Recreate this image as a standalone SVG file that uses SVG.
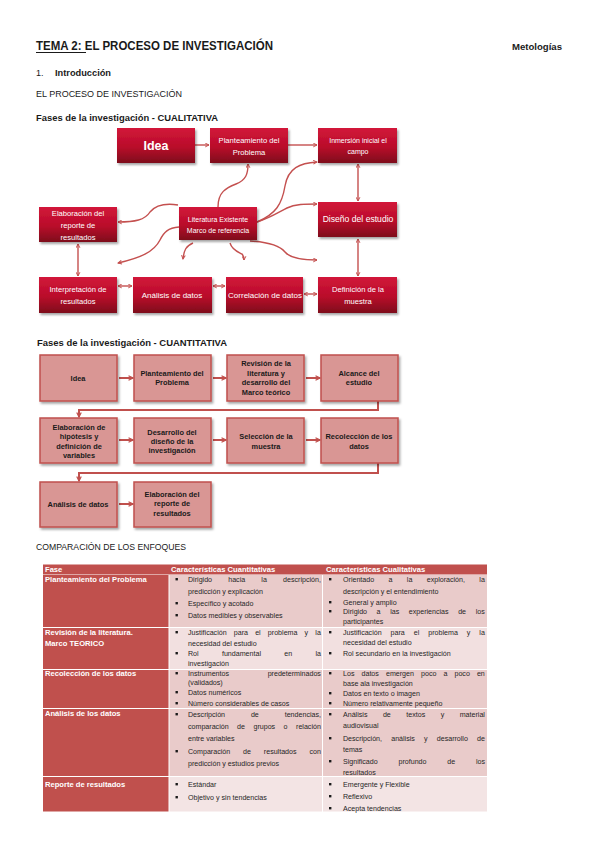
<svg xmlns="http://www.w3.org/2000/svg" width="599" height="848" viewBox="0 0 599 848">
<defs>
<linearGradient id="qg" x1="0" y1="0" x2="0" y2="1">
<stop offset="0" stop-color="#d2163a"/>
<stop offset="0.55" stop-color="#b90d2a"/>
<stop offset="1" stop-color="#7e0a1c"/>
</linearGradient>
<filter id="sh" x="-10%" y="-10%" width="130%" height="140%">
<feDropShadow dx="1.5" dy="2" stdDeviation="1.2" flood-color="#000" flood-opacity="0.35"/>
</filter>
<marker id="ah" viewBox="0 0 8 8" refX="7" refY="4" markerWidth="5" markerHeight="5" orient="auto-start-reverse" markerUnits="userSpaceOnUse">
<path d="M1,1 L7,4 L1,7" fill="none" stroke="#c4504f" stroke-width="1.6"/>
</marker>
<marker id="ah2" viewBox="0 0 8 8" refX="7" refY="4" markerWidth="6" markerHeight="6" orient="auto-start-reverse" markerUnits="userSpaceOnUse">
<path d="M1,1 L7,4 L1,7" fill="none" stroke="#c0504d" stroke-width="1.6"/>
</marker>
</defs>
<style>
text{font-family:"Liberation Sans",Arial,sans-serif;}
.h{font-weight:bold;fill:#1a1a1a;}
.r{fill:#1a1a1a;}
.qb{fill:url(#qg);filter:url(#sh);}
.qt{fill:#fff;font-size:7.6px;text-anchor:middle;}
.nb{fill:#d99694;stroke:#c0504d;stroke-width:1.5;filter:url(#sh);}
.nt{fill:#1a1a1a;font-size:7.4px;font-weight:bold;text-anchor:middle;}
.c{fill:none;stroke:#c4504f;stroke-width:1.4;}
.c2{fill:none;stroke:#c0504d;stroke-width:2;}
.tw{fill:#fff;font-size:7.6px;font-weight:bold;}
.td{fill:#262626;font-size:7.1px;}
.bl{fill:#1a1a1a;}
</style>

<!-- headings -->
<text x="36" y="50" class="h" font-size="12.5" textLength="237" lengthAdjust="spacingAndGlyphs">TEMA 2: EL PROCESO DE INVESTIGACIÓN</text>
<line x1="36" y1="52.5" x2="86" y2="52.5" stroke="#1a1a1a" stroke-width="1"/>
<text x="512" y="50" class="h" font-size="9" textLength="50" lengthAdjust="spacingAndGlyphs">Metologías</text>
<text x="36" y="76" class="r" font-size="9">1.</text>
<text x="55" y="76" class="h" font-size="9" textLength="56" lengthAdjust="spacingAndGlyphs">Introducción</text>
<text x="36" y="97" class="r" font-size="9" textLength="146" lengthAdjust="spacingAndGlyphs">EL PROCESO DE INVESTIGACIÓN</text>
<text x="36" y="121" class="h" font-size="9.5" textLength="182" lengthAdjust="spacingAndGlyphs">Fases de la investigación - CUALITATIVA</text>
<text x="37" y="346" class="h" font-size="9.5" textLength="190" lengthAdjust="spacingAndGlyphs">Fases de la investigación - CUANTITATIVA</text>
<text x="36" y="550" class="r" font-size="9" textLength="150" lengthAdjust="spacingAndGlyphs">COMPARACIÓN DE LOS ENFOQUES</text>

<!-- qualitative connectors -->
<g id="qual-connectors">
<path class="c" d="M195,145 L209,145" marker-end="url(#ah)"/>
<path class="c" d="M288,145 L317,145" marker-end="url(#ah)"/>
<path class="c" d="M218,207 C218,192 226,188 236,184 C246,180 248,174 248,164" marker-end="url(#ah)"/>
<path class="c" d="M257,222 C276,214 282,204 285,186 C288,168 300,163 317,162" marker-end="url(#ah)"/>
<path class="c" d="M257,222 C270,218 279,212 287,208 C295,204 305,204 317,204" marker-end="url(#ah)"/>
<path class="c" d="M178,205 C165,203 155,206 150,212 C145,220 135,222 118,222" marker-end="url(#ah)"/>
<path class="c" d="M179,227 C168,228 164,232 160,240 C154,252 140,258 118,263" marker-end="url(#ah)"/>
<path class="c" d="M193,243 C186,246 184,250 183,259" marker-end="url(#ah)"/>
<path class="c" d="M230,243 C232,250 238,252 242,254 C244,256 244,258 244,260" marker-end="url(#ah)"/>
<path class="c" d="M250,241 C268,242 280,246 285,252 C290,258 300,260 317,260" marker-end="url(#ah)"/>
<path class="c" d="M358,164 L358,201" marker-start="url(#ah)" marker-end="url(#ah)"/>
<path class="c" d="M358,239 L358,276" marker-start="url(#ah)" marker-end="url(#ah)"/>
<path class="c" d="M78,244 L78,276" marker-start="url(#ah)" marker-end="url(#ah)"/>
<path class="c" d="M118,286 L132,286" marker-start="url(#ah)" marker-end="url(#ah)"/>
<path class="c" d="M213,286 L225,286" marker-start="url(#ah)" marker-end="url(#ah)"/>
<path class="c" d="M304,294 L317,294" marker-start="url(#ah)" marker-end="url(#ah)"/>
</g>

<!-- qualitative nodes -->
<g id="q-idea"><rect class="qb" x="117" y="128" width="78" height="35"/><text class="qt" x="156" y="150" style="font-size:12.5px;font-weight:bold">Idea</text></g>
<g id="q-planteamiento"><rect class="qb" x="210" y="128" width="78" height="35"/><text class="qt" x="249" y="143">Planteamiento del</text><text class="qt" x="249" y="155">Problema</text></g>
<g id="q-inmersion"><rect class="qb" x="318" y="128" width="79" height="35"/><text class="qt" x="358" y="143" style="font-size:7px">Inmersión inicial el</text><text class="qt" x="358" y="154" style="font-size:7px">campo</text></g>
<g id="q-elaboracion"><rect class="qb" x="39" y="207" width="78" height="35"/><text class="qt" x="78" y="216">Elaboración del</text><text class="qt" x="78" y="228">reporte de</text><text class="qt" x="78" y="240">resultados</text></g>
<g id="q-literatura"><rect class="qb" x="179" y="207" width="78" height="33"/><text class="qt" x="218" y="222" style="font-size:7px">Literatura Existente</text><text class="qt" x="218" y="233" style="font-size:7px">Marco de referencia</text></g>
<g id="q-diseno"><rect class="qb" x="318" y="202" width="79" height="35"/><text class="qt" x="358" y="222" style="font-size:8.6px">Diseño del estudio</text></g>
<g id="q-interpretacion"><rect class="qb" x="39" y="277" width="78" height="36"/><text class="qt" x="78" y="292">Interpretación de</text><text class="qt" x="78" y="304">resultados</text></g>
<g id="q-analisis"><rect class="qb" x="133" y="277" width="79" height="36"/><text class="qt" x="172" y="298" style="font-size:8px">Análisis de datos</text></g>
<g id="q-correlacion"><rect class="qb" x="226" y="277" width="77" height="36"/><text class="qt" x="265" y="298" style="font-size:8px">Correlación de datos</text></g>
<g id="q-definicion"><rect class="qb" x="318" y="277" width="79" height="36"/><text class="qt" x="358" y="292">Definición de la</text><text class="qt" x="358" y="304">muestra</text></g>

<!-- quantitative connectors -->
<g id="quant-connectors">
<path class="c2" d="M119,378 L133,378" marker-end="url(#ah2)"/>
<path class="c2" d="M213,378 L226,378" marker-end="url(#ah2)"/>
<path class="c2" d="M306,378 L320,378" marker-end="url(#ah2)"/>
<path class="c2" d="M378,401 L378,410 L79,410 L79,417" marker-end="url(#ah2)"/>
<path class="c2" d="M119,440 L133,440" marker-end="url(#ah2)"/>
<path class="c2" d="M213,440 L226,440" marker-end="url(#ah2)"/>
<path class="c2" d="M306,440 L320,440" marker-end="url(#ah2)"/>
<path class="c2" d="M378,463 L378,473 L79,473 L79,481" marker-end="url(#ah2)"/>
<path class="c2" d="M119,504 L133,504" marker-end="url(#ah2)"/>
</g>

<!-- quantitative nodes -->
<g id="n-idea"><rect class="nb" x="40" y="355" width="77" height="46"/><text class="nt" x="78" y="381">Idea</text></g>
<g id="n-planteamiento"><rect class="nb" x="134" y="355" width="77" height="46"/><text class="nt" x="172" y="376">Planteamiento del</text><text class="nt" x="172" y="385">Problema</text></g>
<g id="n-revision"><rect class="nb" x="227" y="355" width="77" height="46"/><text class="nt" x="266" y="366">Revisión de la</text><text class="nt" x="266" y="376">literatura y</text><text class="nt" x="266" y="385">desarrollo del</text><text class="nt" x="266" y="395">Marco teórico</text></g>
<g id="n-alcance"><rect class="nb" x="321" y="355" width="77" height="46"/><text class="nt" x="359" y="376">Alcance del</text><text class="nt" x="359" y="385">estudio</text></g>
<g id="n-hipotesis"><rect class="nb" x="40" y="418" width="77" height="45"/><text class="nt" x="79" y="430">Elaboración de</text><text class="nt" x="79" y="439">hipótesis y</text><text class="nt" x="79" y="449">definición de</text><text class="nt" x="79" y="458">variables</text></g>
<g id="n-desarrollo"><rect class="nb" x="134" y="418" width="77" height="45"/><text class="nt" x="172" y="435">Desarrollo del</text><text class="nt" x="172" y="444">diseño de la</text><text class="nt" x="172" y="453">investigación</text></g>
<g id="n-seleccion"><rect class="nb" x="227" y="418" width="77" height="45"/><text class="nt" x="266" y="439">Selección de la</text><text class="nt" x="266" y="449">muestra</text></g>
<g id="n-recoleccion"><rect class="nb" x="321" y="418" width="77" height="45"/><text class="nt" x="359" y="439">Recolección de los</text><text class="nt" x="359" y="449">datos</text></g>
<g id="n-analisis"><rect class="nb" x="40" y="482" width="77" height="45"/><text class="nt" x="78" y="507">Análisis de datos</text></g>
<g id="n-reporte"><rect class="nb" x="134" y="482" width="77" height="45"/><text class="nt" x="172" y="497">Elaboración del</text><text class="nt" x="172" y="506">reporte de</text><text class="nt" x="172" y="516">resultados</text></g>

<!-- table -->
<g id="table">
<rect x="43" y="564.5" width="444" height="10" fill="#c0504d"/>
<rect x="43" y="575" width="125.5" height="236.5" fill="#c0504d"/>
<rect x="169.5" y="575" width="152.5" height="52" fill="#e9cbca"/>
<rect x="323" y="575" width="164" height="52" fill="#e9cbca"/>
<rect x="169.5" y="628" width="152.5" height="41" fill="#f2e0e0"/>
<rect x="323" y="628" width="164" height="41" fill="#f2e0e0"/>
<rect x="169.5" y="670" width="152.5" height="38" fill="#e9cbca"/>
<rect x="323" y="670" width="164" height="38" fill="#e9cbca"/>
<rect x="169.5" y="709" width="152.5" height="67" fill="#e9cbca"/>
<rect x="323" y="709" width="164" height="67" fill="#e9cbca"/>
<rect x="169.5" y="777" width="152.5" height="34.5" fill="#f3e4e4"/>
<rect x="323" y="777" width="164" height="34.5" fill="#f3e4e4"/>
<g fill="#fff"><rect x="43" y="627" width="444" height="1"/><rect x="43" y="669" width="444" height="1"/><rect x="43" y="708" width="444" height="1"/><rect x="43" y="776" width="444" height="1"/></g>

<text class="tw" x="45" y="572">Fase</text>
<text class="tw" x="171" y="572">Características Cuantitativas</text>
<text class="tw" x="326" y="572">Características Cualitativas</text>
<text class="tw" x="45" y="582">Planteamiento del Problema</text>
<text class="tw" x="45" y="635">Revisión de la literatura.</text>
<text class="tw" x="45" y="646">Marco TEORICO</text>
<text class="tw" x="45" y="676">Recolección de los datos</text>
<text class="tw" x="45" y="716">Análisis de los datos</text>
<text class="tw" x="45" y="787">Reporte de resultados</text>

<g class="bl">
<rect x="175.5" y="578" width="2.4" height="2.4"/><rect x="175.5" y="602" width="2.4" height="2.4"/><rect x="175.5" y="614" width="2.4" height="2.4"/>
<rect x="175.5" y="631" width="2.4" height="2.4"/><rect x="175.5" y="652" width="2.4" height="2.4"/>
<rect x="175.5" y="672" width="2.4" height="2.4"/><rect x="175.5" y="691" width="2.4" height="2.4"/><rect x="175.5" y="702" width="2.4" height="2.4"/>
<rect x="175.5" y="713" width="2.4" height="2.4"/><rect x="175.5" y="750" width="2.4" height="2.4"/>
<rect x="175.5" y="783" width="2.4" height="2.4"/><rect x="175.5" y="796" width="2.4" height="2.4"/>
<rect x="329" y="578" width="2.4" height="2.4"/><rect x="329" y="601" width="2.4" height="2.4"/><rect x="329" y="610" width="2.4" height="2.4"/>
<rect x="329" y="631" width="2.4" height="2.4"/><rect x="329" y="652" width="2.4" height="2.4"/>
<rect x="329" y="672" width="2.4" height="2.4"/><rect x="329" y="692" width="2.4" height="2.4"/><rect x="329" y="702" width="2.4" height="2.4"/>
<rect x="329" y="713" width="2.4" height="2.4"/><rect x="329" y="737" width="2.4" height="2.4"/><rect x="329" y="760" width="2.4" height="2.4"/>
<rect x="329" y="783" width="2.4" height="2.4"/><rect x="329" y="795" width="2.4" height="2.4"/><rect x="329" y="807" width="2.4" height="2.4"/>
</g>

<text class="td" x="188" y="582" word-spacing="14.2">Dirigido hacia la descripción,</text>
<text class="td" x="188" y="594">predicción y explicación</text>
<text class="td" x="188" y="606">Específico y acotado</text>
<text class="td" x="188" y="618">Datos medibles y observables</text>
<text class="td" x="188" y="635" word-spacing="5.2">Justificación para el problema y la</text>
<text class="td" x="188" y="646">necesidad del estudio</text>
<text class="td" x="188" y="656" word-spacing="21.3">Rol fundamental en la</text>
<text class="td" x="188" y="666">investigación</text>
<text class="td" x="188" y="676" word-spacing="36.7">Instrumentos predeterminados</text>
<text class="td" x="188" y="685">(validados)</text>
<text class="td" x="188" y="695">Datos numéricos</text>
<text class="td" x="188" y="706">Número considerables de casos</text>
<text class="td" x="188" y="717" word-spacing="23.9">Descripción de tendencias,</text>
<text class="td" x="188" y="729" word-spacing="6.5">comparación de grupos o relación</text>
<text class="td" x="188" y="741">entre variables</text>
<text class="td" x="188" y="754" word-spacing="10.9">Comparación de resultados con</text>
<text class="td" x="188" y="766">predicción y estudios previos</text>
<text class="td" x="188" y="787">Estándar</text>
<text class="td" x="188" y="800">Objetivo y sin tendencias</text>

<text class="td" x="343" y="582" word-spacing="12.4">Orientado a la exploración, la</text>
<text class="td" x="343" y="594">descripción y el entendimiento</text>
<text class="td" x="343" y="605">General y amplio</text>
<text class="td" x="343" y="614" word-spacing="7.6">Dirigido a las experiencias de los</text>
<text class="td" x="343" y="624">participantes</text>
<text class="td" x="343" y="635" word-spacing="7.0">Justificación para el problema y la</text>
<text class="td" x="343" y="645">necesidad del estudio</text>
<text class="td" x="343" y="656">Rol secundario en la investigación</text>
<text class="td" x="343" y="676" word-spacing="5.1">Los datos emergen poco a poco en</text>
<text class="td" x="343" y="686">base ala investigación</text>
<text class="td" x="343" y="696">Datos en texto o imagen</text>
<text class="td" x="343" y="706">Número relativamente pequeño</text>
<text class="td" x="343" y="717" word-spacing="13.5">Análisis de textos y material</text>
<text class="td" x="343" y="728">audiovisual</text>
<text class="td" x="343" y="741" word-spacing="7.2">Descripción, análisis y desarrollo de</text>
<text class="td" x="343" y="752">temas</text>
<text class="td" x="343" y="764" word-spacing="18.8">Significado profundo de los</text>
<text class="td" x="343" y="775">resultados</text>
<text class="td" x="343" y="787">Emergente y Flexible</text>
<text class="td" x="343" y="799">Reflexivo</text>
<text class="td" x="343" y="811">Acepta tendencias</text>
</g>
</svg>
